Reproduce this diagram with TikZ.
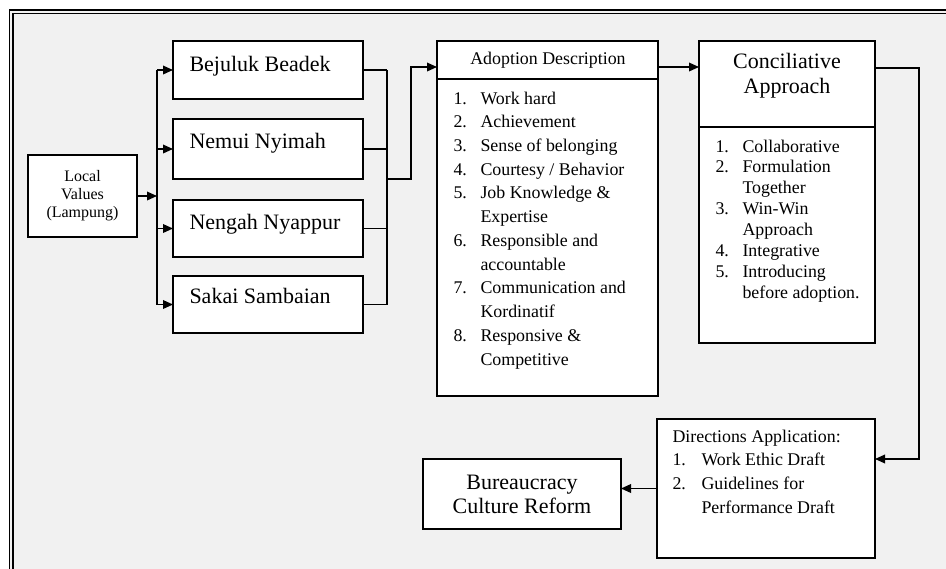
\documentclass[tikz,border=0pt]{standalone}
\usepackage{fontspec}
\setmainfont{Liberation Serif}
\usetikzlibrary{arrows.meta}

\definecolor{panelgray}{RGB}{241,241,241}

\tikzset{every picture/.style={line width=0.75pt}}
\tikzset{
  box/.style={draw, fill=white, line width=1pt, inner sep=0pt, outer sep=0pt},
  link/.style={line width=1pt},
  arr/.style={line width=1pt, -{Triangle[length=7.5pt,width=6.5pt]}},
  bigtxt/.style={font=\fontsize{16.5}{19}\selectfont},
  listtxt/.style={font=\fontsize{13.4}{17.8}\selectfont, inner sep=0pt},
}
\newcommand{\num}[1]{\makebox[20.25pt][l]{#1}}
\newcommand{\cont}{\hspace*{20.25pt}}
\newenvironment{toplines}[1]{\begin{tabular}[t]{@{}#1@{}}}{\end{tabular}}

\begin{document}
\begin{tikzpicture}[x=0.75pt,y=0.75pt,yscale=-1,xscale=1]
\clip (0,0) rectangle (946,568);
\fill[white] (0,0) rectangle (946,568);

%Frame
\fill[panelgray] (11.4,11.6) rectangle (990,600);
\draw[line width=1.4pt, double=panelgray, double distance=1.5pt] (11.4,11.6) rectangle (990,600);

%Local values
\node[box, minimum width=81.75pt, minimum height=61.5pt, align=center,
  font=\fontsize{12}{13.5}\selectfont] (local) at (82.5,196) {Local\\Values\\(Lampung)};

%Values boxes
\node[box, minimum width=142.5pt, minimum height=43.5pt] (bej) at (268,70) {};
\node[box, minimum width=142.5pt, minimum height=45pt] (nem) at (268,149) {};
\node[box, minimum width=142.5pt, minimum height=42.75pt] (nen) at (268,228.5) {};
\node[box, minimum width=142.5pt, minimum height=42.75pt] (sak) at (268,304.5) {};
\node[bigtxt, anchor=base west, inner sep=0pt] (bejtxt) at (189,71) {Bejuluk Beadek};
\node[bigtxt, anchor=base west, inner sep=0pt] (nemtxt) at (189,148) {Nemui Nyimah};
\node[bigtxt, anchor=base west, inner sep=0pt] (nentxt) at (189,229) {Nengah Nyappur};
\node[bigtxt, anchor=base west, inner sep=0pt] (saktxt) at (189,303) {Sakai Sambaian};

%Adoption description
\node[box, minimum width=165.75pt, minimum height=266.25pt] (adopt) at (547.5,218.5) {};
\draw[link] (adopt.west |- 0,79) -- (adopt.east |- 0,79);
\node[anchor=base, inner sep=0pt, font=\fontsize{13.4}{17.8}\selectfont] (adopthd) at (548,64) {Adoption Description};
\node[listtxt, anchor=base west] (adoptlist) at (453,104) {\begin{toplines}{l}
\num{1.}Work hard\\
\num{2.}Achievement\\
\num{3.}Sense of belonging\\
\num{4.}Courtesy / Behavior\\
\num{5.}Job Knowledge \&\\
\cont Expertise\\
\num{6.}Responsible and\\
\cont accountable\\
\num{7.}Communication and\\
\cont Kordinatif\\
\num{8.}Responsive \&\\
\cont Competitive
\end{toplines}};

%Conciliative approach
\node[box, minimum width=132pt, minimum height=226.5pt] (concil) at (787,192) {};
\draw[link] (concil.west |- 0,127) -- (concil.east |- 0,127);
\node[font=\fontsize{16.5}{18.75}\selectfont, anchor=base, inner sep=0pt] (concilhd) at (787,68)
  {\begin{toplines}{c}Conciliative\\Approach\end{toplines}};
\node[listtxt, font=\fontsize{13.4}{15.7}\selectfont, anchor=base west] (concillist) at (715,152) {\begin{toplines}{l}
\num{1.}Collaborative\\
\num{2.}Formulation\\
\cont Together\\
\num{3.}Win-Win\\
\cont Approach\\
\num{4.}Integrative\\
\num{5.}Introducing\\
\cont before adoption.
\end{toplines}};

%Directions application
\node[box, minimum width=163.5pt, minimum height=104.25pt] (dir) at (766,488.5) {};
\node[listtxt, anchor=base west] (dirlist) at (672,442) {\begin{toplines}{l}
Directions Application:\\
\makebox[21.75pt][l]{1.}Work Ethic Draft\\
\makebox[21.75pt][l]{2.}Guidelines for\\
\hspace*{21.75pt}Performance Draft
\end{toplines}};

%Bureaucracy culture reform
\node[box, minimum width=148.5pt, minimum height=52.5pt, align=center,
  font=\fontsize{16.5}{18}\selectfont] (bur) at (522,494) {Bureaucracy\\Culture Reform};

%Connectors
\coordinate (split) at (157,196);
\coordinate (merge) at (387,196);
\coordinate (turn) at (411,67);
\coordinate (back) at (919,68);
\coordinate (dirin) at (875,459);

\draw[arr] (local.east) -- (split);
\draw[link] (split |- bej.west) -- (split |- sak.west);
\foreach \b in {bej,nem,nen,sak}
  \draw[arr] (split |- \b.west) -- (\b.west);
\foreach \b in {bej,nem,nen,sak}
  \draw[link] (\b.east) -- (merge |- \b.east);
\draw[link] (merge |- bej.east) -- (merge |- sak.east);
\draw[arr] (merge |- nem.south) -| (turn) -- (adopt.west |- turn);
\draw[arr] (adopt.east |- turn) -- (concil.west |- turn);
\draw[arr] (concil.east |- back) -- (back) |- (dir.east |- dirin);
\draw[arr] (dir.west) -- (bur.east |- dir.west);

\end{tikzpicture}
\end{document}
